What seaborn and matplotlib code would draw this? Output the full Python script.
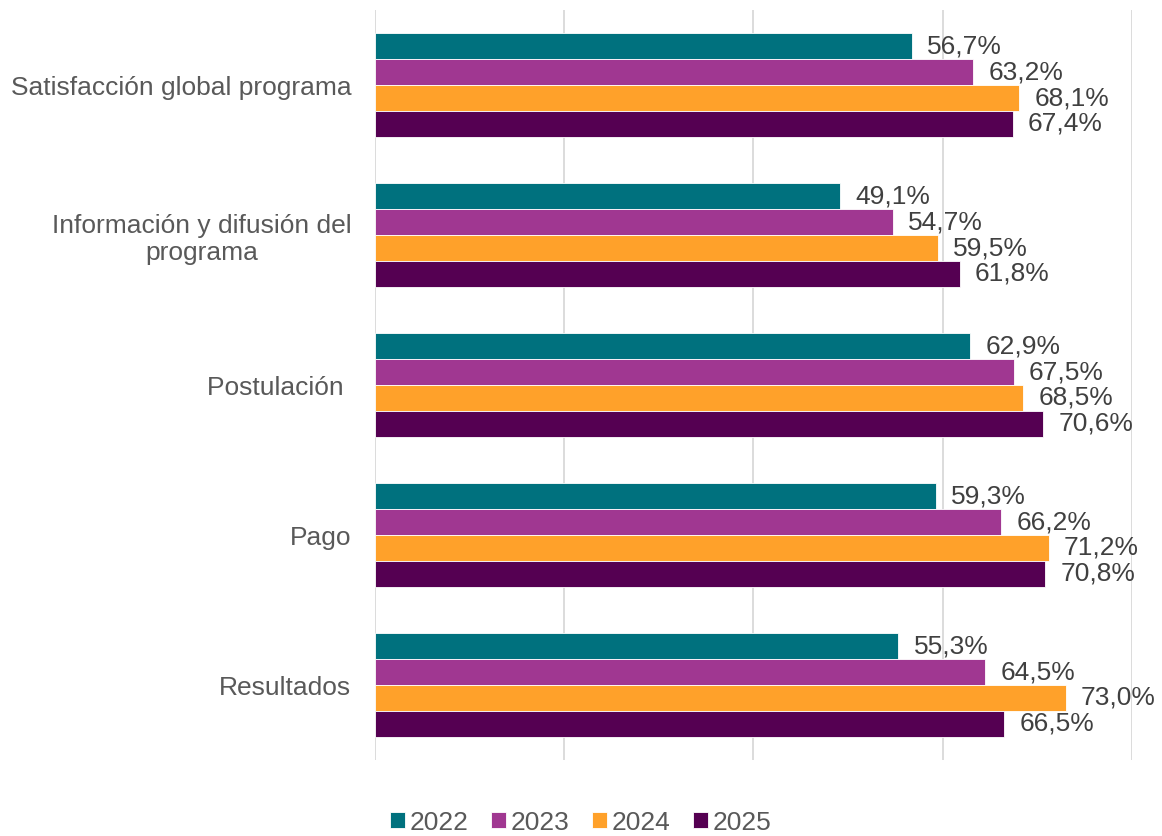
import matplotlib
matplotlib.use("Agg")
import matplotlib.pyplot as plt
import seaborn as sns
import pandas as pd

categories = [
    "Satisfacción global programa",
    "Información y difusión del\nprograma",
    "Postulación ",
    "Pago",
    "Resultados",
]
years = ["2022", "2023", "2024", "2025"]
values_2022 = [56.7, 49.1, 62.9, 59.3, 55.3]
values_2023 = [63.2, 54.7, 67.5, 66.2, 64.5]
values_2024 = [68.1, 59.5, 68.5, 71.2, 73.0]
values_2025 = [67.4, 61.8, 70.6, 70.8, 66.5]
palette = ["#00717E", "#A03791", "#FFA12A", "#550052"]

series = [values_2022, values_2023, values_2024, values_2025]
rows = []
for year, vals in zip(years, series):
    for cat, v in zip(categories, vals):
        rows.append({"categoria": cat, "anio": year, "valor": v})
df = pd.DataFrame(rows)

sns.set_theme(style="white")
plt.rcParams["font.family"] = ["Liberation Sans", "DejaVu Sans"]

fig = plt.figure(figsize=(11.62, 8.36), dpi=100)
ax = fig.add_axes([0.3227, 0.0909, 0.6515, 0.897])

sns.barplot(data=df, y="categoria", x="valor", hue="anio", order=categories,
            hue_order=years, palette=palette, orient="h", width=0.69,
            saturation=1, ax=ax, linewidth=0.6, edgecolor="white", legend=True)

ax.set_xlim(0, 80)
ax.set_xticks([0, 20, 40, 60, 80])
ax.set_xticklabels([])
ax.grid(axis="x", color="#D9D9D9", linewidth=1.3)
ax.set_axisbelow(True)
for s in ax.spines.values():
    s.set_visible(False)
ax.tick_params(axis="x", length=0)
ax.tick_params(axis="y", length=0, pad=17, labelsize=19, labelcolor="#595959")
for lbl in ax.get_yticklabels():
    lbl.set_multialignment("center")
ax.set_xlabel("")
ax.set_ylabel("")

for container in ax.containers:
    labels = [f"{v:.1f}%".replace(".", ",") for v in container.datavalues]
    ax.bar_label(container, labels=labels, padding=11, fontsize=19, color="#404040")

handles, labs = ax.get_legend_handles_labels()
ax.legend_.remove()
fig.legend(handles, labs, loc="center", bbox_to_anchor=(0.5, 0.016), ncol=4,
           frameon=False, fontsize=19, labelcolor="#595959",
           handlelength=0.55, handleheight=0.55, handletextpad=0.2, columnspacing=0.85)

fig.savefig("out.png", dpi=100)
